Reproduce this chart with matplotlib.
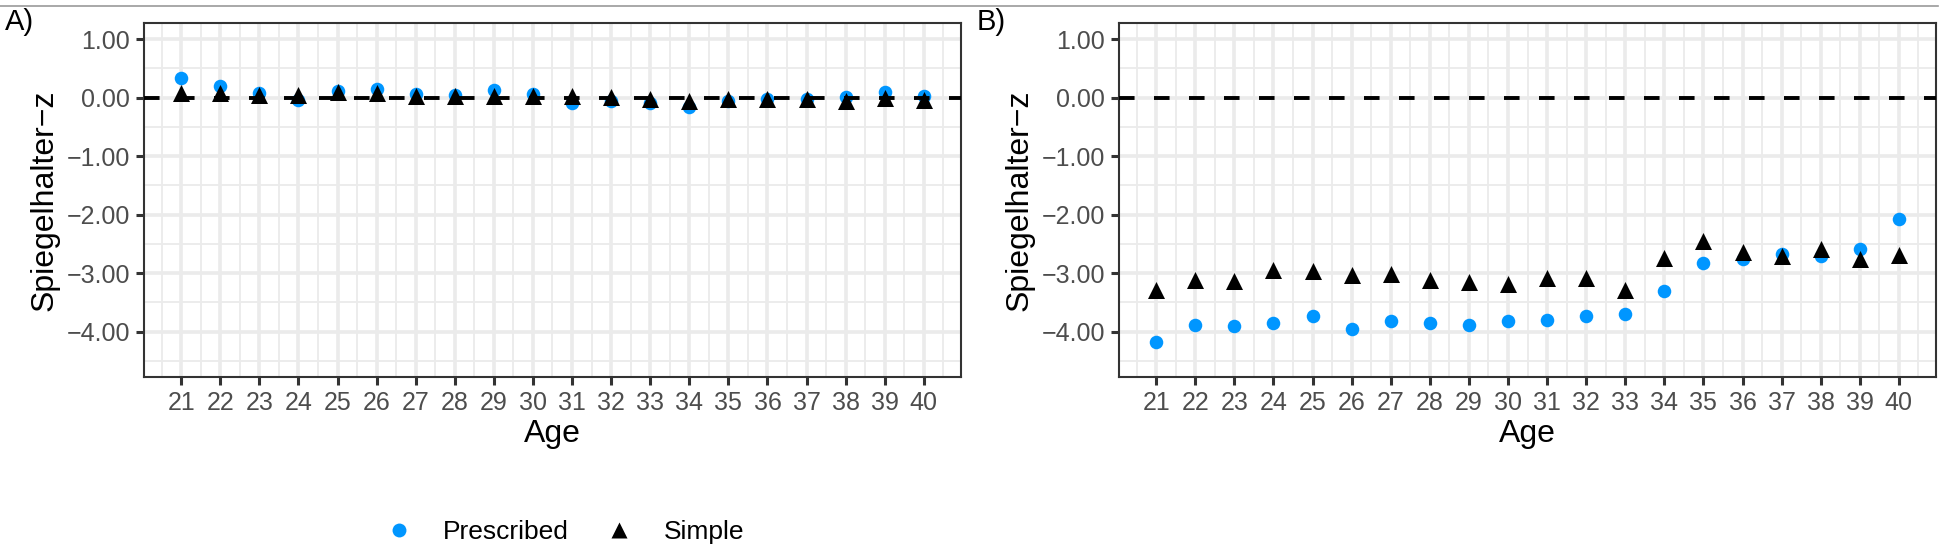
import matplotlib.pyplot as plt
import numpy as np
from matplotlib.lines import Line2D

plt.rcParams["font.family"] = ["Liberation Sans", "DejaVu Sans"]

# Age groups on the x axis
ages = np.arange(21, 41)

# Panel A: Spiegelhalter z-scores
a_prescribed = [0.34, 0.20, 0.08, -0.04, 0.12, 0.14, 0.07, 0.04, 0.13, 0.07,
                -0.10, -0.05, -0.10, -0.16, -0.06, -0.03, -0.02, 0.01, 0.10, 0.03]
a_simple = [0.08, 0.08, 0.04, 0.05, 0.10, 0.08, 0.02, 0.03, 0.02, 0.02,
            0.02, 0.01, -0.03, -0.05, -0.03, -0.03, -0.03, -0.06, -0.01, -0.04]

# Panel B: Spiegelhalter z-scores
b_prescribed = [-4.17, -3.88, -3.90, -3.85, -3.73, -3.96, -3.81, -3.85, -3.88, -3.81,
                -3.80, -3.73, -3.70, -3.31, -2.82, -2.76, -2.68, -2.70, -2.59, -2.07]
b_simple = [-3.29, -3.11, -3.14, -2.95, -2.97, -3.04, -3.02, -3.11, -3.15, -3.18,
            -3.09, -3.09, -3.28, -2.74, -2.45, -2.64, -2.70, -2.59, -2.76, -2.69]

y_ticks = [1.0, 0.0, -1.0, -2.0, -3.0, -4.0]
blue = "#0096FF"

fig = plt.figure(figsize=(19.5, 5.53), dpi=100)

# Thin rule across the top of the figure
fig.add_artist(Line2D([0, 0.994], [0.989, 0.989], color="#9a9a9a", lw=1.2))


def draw_panel(ax, prescribed, simple):
    ax.scatter(ages, prescribed, s=95, color=blue, marker="o", linewidths=0, zorder=3)
    ax.scatter(ages, simple, s=150, color="black", marker="^", linewidths=0, zorder=4)
    ax.axhline(0, color="black", lw=2.8, dashes=(4, 5), zorder=5)

    ax.set_xlim(20.05, 40.95)
    ax.set_ylim(-4.775, 1.275)
    ax.set_xticks(ages)
    ax.set_xticks(np.arange(20.5, 41, 1), minor=True)
    ax.set_yticks(y_ticks)
    ax.set_yticks(np.arange(-4.5, 1.0, 1.0), minor=True)
    ax.set_yticklabels([("%.2f" % v).replace("-", "\u2212") for v in y_ticks])

    ax.grid(which="major", color="#EBEBEB", lw=2.6, zorder=0)
    ax.grid(which="minor", color="#EBEBEB", lw=1.3, zorder=0)
    ax.set_axisbelow(True)
    for s in ax.spines.values():
        s.set_color("#333333")
        s.set_linewidth(1.5)
    ax.tick_params(which="major", length=6, width=2.2, color="#333333",
                   labelsize=18, labelcolor="#4D4D4D", pad=4)
    ax.tick_params(which="minor", length=0)
    ax.set_xlabel("Age", fontsize=23, labelpad=3)
    ax.set_ylabel("Spiegelhalter\u2212z", fontsize=23, labelpad=5)


ax_a = fig.add_axes([144 / 1950, 1 - 377 / 553, (961 - 144) / 1950, (377 - 23) / 553])
ax_b = fig.add_axes([1119 / 1950, 1 - 377 / 553, (1936 - 1119) / 1950, (377 - 23) / 553])
draw_panel(ax_a, a_prescribed, a_simple)
draw_panel(ax_b, b_prescribed, b_simple)

fig.text(5 / 1950, 1 - 30 / 553, "A)", fontsize=21, ha="left", va="baseline")
fig.text(977 / 1950, 1 - 30 / 553, "B)", fontsize=21, ha="left", va="baseline")

handles = [
    Line2D([], [], ls="none", marker="o", ms=10, color=blue, mec="none"),
    Line2D([], [], ls="none", marker="^", ms=12, color="black", mec="none"),
]
fig.legend(handles, ["Prescribed", "Simple"], loc="center", ncol=2,
           bbox_to_anchor=(565 / 1950, 1 - 532 / 553), frameon=False,
           fontsize=19, handlelength=1.0, handletextpad=1.17, columnspacing=1.4)

fig.savefig("out.png", dpi=100)
